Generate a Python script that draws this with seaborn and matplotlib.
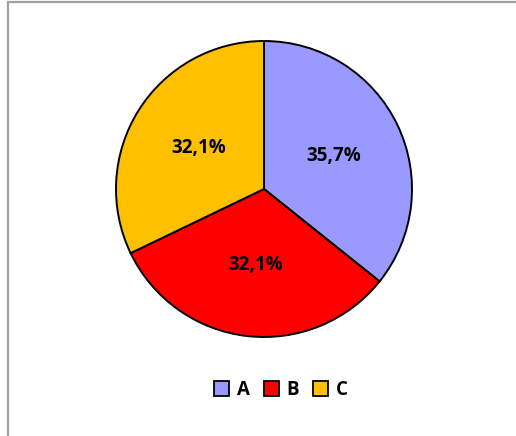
import matplotlib
matplotlib.use("Agg")
import matplotlib.pyplot as plt
import seaborn as sns
from matplotlib.lines import Line2D
from matplotlib.patches import Patch
from matplotlib.font_manager import FontProperties

categories = ["A", "B", "C"]
values = [35.7, 32.1, 32.1]
colors = ["#9999FF", "#FF0000", "#FFC000"]

sns.set_theme(style="white")
plt.rcParams['font.family'] = ['Open Sans', 'DejaVu Sans']

W, H = 516, 436
fig = plt.figure(figsize=(W / 100, H / 100), dpi=100)
fig.patch.set_facecolor("white")

cx, cy, r = 264, 189, 148
half = 152
ax = fig.add_axes([(cx - half) / W, (H - cy - half) / H, 2 * half / W, 2 * half / H])

wedges, texts, autotexts = ax.pie(
    values,
    colors=colors,
    startangle=90,
    counterclock=False,
    autopct=lambda p: f"{p:.1f}%".replace(".", ","),
    pctdistance=0.52,
    wedgeprops=dict(edgecolor="black", linewidth=1.4),
    textprops=dict(fontsize=13.5, fontweight="bold", color="black"),
)
lim = half / r
ax.set_xlim(-lim, lim)
ax.set_ylim(-lim, lim)
ax.set_aspect("equal")
ax.axis("off")

handles = [Patch(facecolor=c, edgecolor="black", linewidth=1.3) for c in colors]
fp = FontProperties(family=['Open Sans', 'DejaVu Sans'], weight="bold", size=13.5)
leg = fig.legend(
    handles, categories, loc="center", bbox_to_anchor=(281 / W, 1 - 390 / H),
    ncol=3, frameon=False, handlelength=0.8, handleheight=0.8,
    handletextpad=0.4, columnspacing=0.75, prop=fp, labelcolor="black",
)

# chart border (top and left visible)
border_color = "#A0A0A0"
fig.add_artist(Line2D([7.5 / W, 1.0], [1 - 2 / H, 1 - 2 / H], color=border_color, linewidth=1.6,
                      transform=fig.transFigure))
fig.add_artist(Line2D([7.5 / W, 7.5 / W], [0, 1 - 2 / H], color=border_color, linewidth=1.6,
                      transform=fig.transFigure))

fig.savefig("out.png", dpi=100, facecolor="white")
